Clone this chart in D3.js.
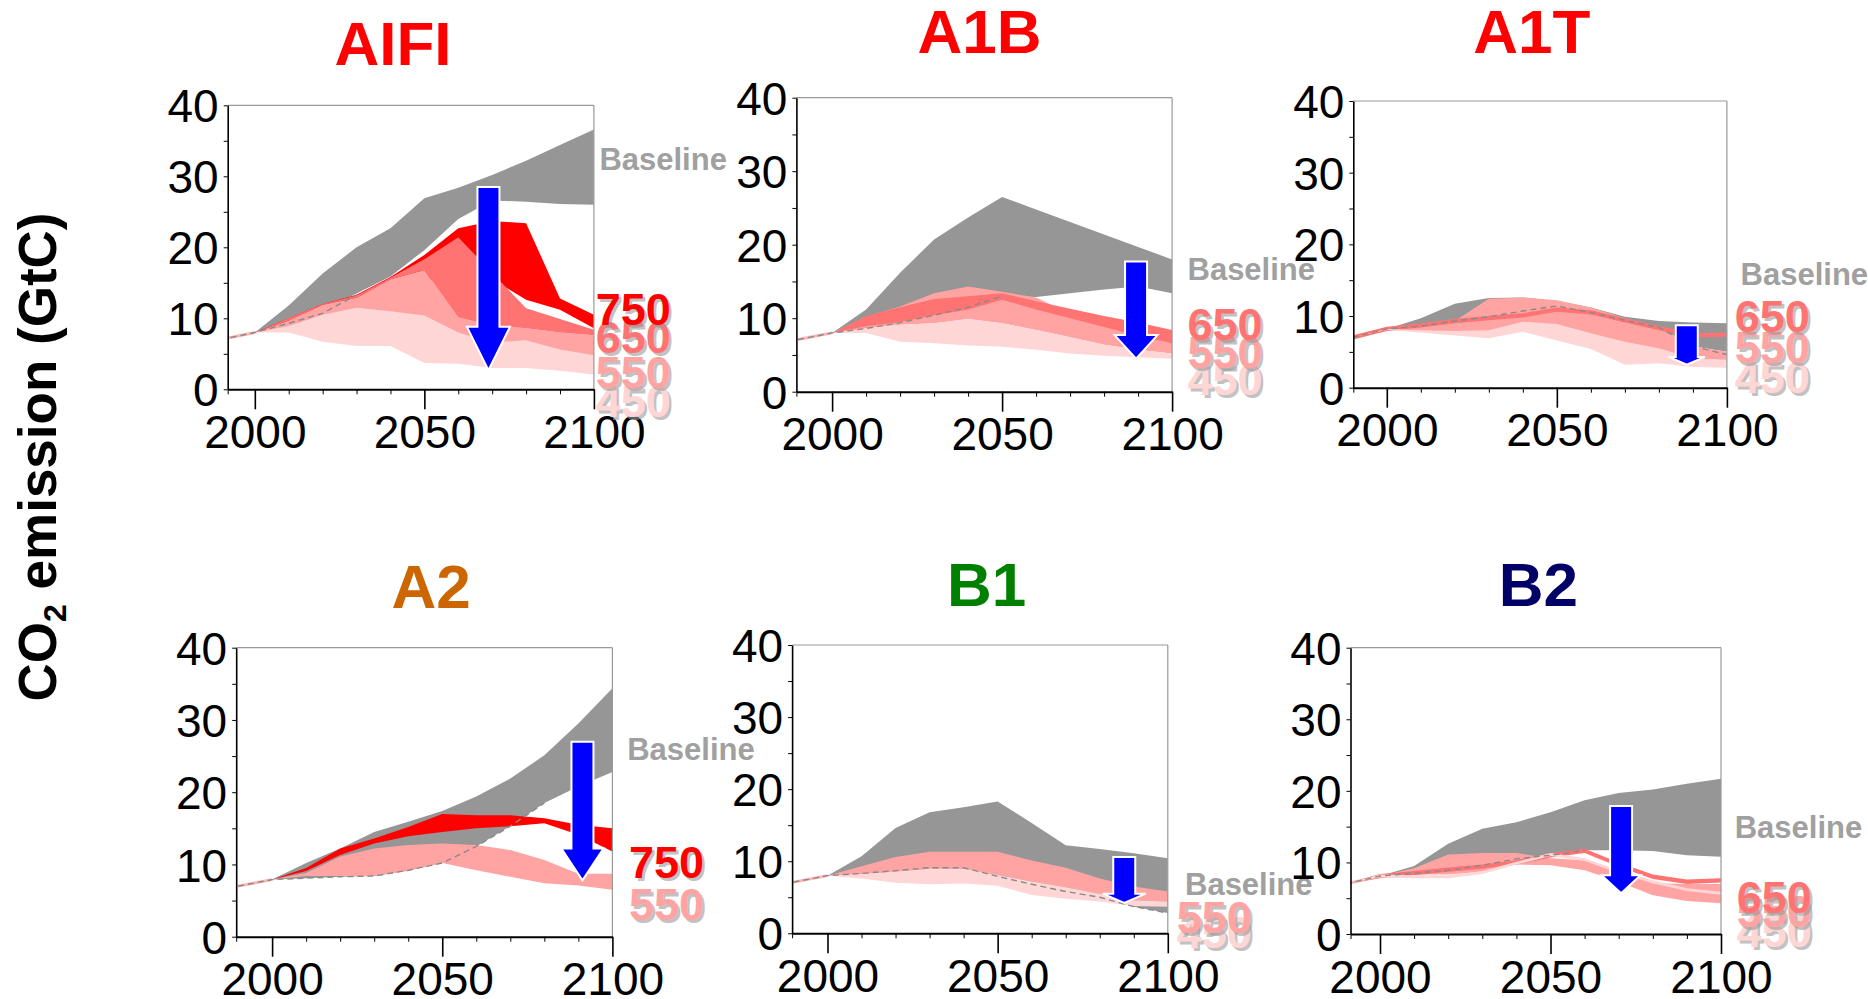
<!DOCTYPE html>
<html><head><meta charset="utf-8">
<script src="https://cdn.jsdelivr.net/npm/d3@7"></script>
<style>
body{margin:0;background:#fff;}
svg{display:block;}
text{font-family:"Liberation Sans", Arial, sans-serif;}
</style>
</head><body>
<svg id="chart" width="1868" height="999"></svg>
<script>
// ---------- data ----------
const years = [1990, 2000, 2010, 2020, 2030, 2040, 2050, 2060, 2070, 2080, 2090, 2100];
const yMajorTicks = [0, 10, 20, 30, 40];
const yMinorTicks = [5, 15, 25, 35];
const xMajorTicks = [2000, 2050, 2100];
const xMinorTicks = [2010, 2020, 2030, 2040, 2060, 2070, 2080, 2090];
const scenarios = ["AIFI", "A1B", "A1T", "A2", "B1", "B2"];

// AIFI
const aifiBaseLo = [7.0, 8.0, 9.5, 11.2, 13.5, 15.9, 19.6, 24.0, 26.6, 26.4, 26.1, 26.0];
const aifiBaseHi = [7.0, 8.0, 11.8, 16.3, 20.0, 22.7, 26.9, 28.4, 30.2, 32.2, 34.4, 36.6];
const aifi750Lo = [7.0, 8.0, 9.3, 10.8, 12.2, 13.8, 15.2, 16.5, 15.5, 12.6, 11.2, 8.6];
const aifi750Hi = [7.0, 8.0, 10.0, 12.0, 13.3, 15.8, 18.9, 22.7, 23.7, 23.4, 12.8, 10.5];
const aifi650Lo = [7.0, 8.0, 9.7, 11.9, 12.9, 15.5, 16.8, 10.1, 9.0, 8.6, 8.0, 7.6];
const aifi650Hi = [7.0, 8.0, 10.0, 12.0, 13.2, 15.7, 18.3, 21.4, 16.4, 11.4, 9.9, 8.4];
const aifi550Lo = [7.0, 8.0, 8.6, 9.0, 9.5, 9.0, 8.0, 6.0, 5.0, 5.0, 4.5, 4.0];
const aifi550Hi = [7.0, 8.0, 9.7, 11.9, 12.9, 15.5, 16.8, 10.1, 9.0, 8.6, 8.0, 7.6];
const aifi450Lo = [7.0, 8.0, 8.0, 6.7, 6.1, 6.1, 3.7, 3.6, 3.0, 3.0, 2.6, 2.1];
const aifi450Hi = [7.0, 8.0, 8.9, 10.5, 11.5, 11.0, 10.4, 8.0, 6.6, 6.9, 5.6, 4.8];
const aifiDash = [7.0, 8.0, 9.3, 10.7, 13.3];

// A1B
const a1bBaseLo = [7.1, 8.0, 8.7, 9.5, 10.4, 11.5, 13.0, 12.9, 13.4, 13.9, 14.3, 13.4];
const a1bBaseHi = [7.1, 8.0, 11.2, 16.2, 20.7, 23.7, 26.5, 24.8, 23.1, 21.4, 19.7, 18.0];
const a1b650Lo = [7.1, 8.0, 8.9, 9.5, 10.4, 11.2, 12.5, 11.2, 10.0, 8.8, 7.6, 6.6];
const a1b650Hi = [7.1, 8.0, 10.3, 11.5, 12.6, 13.0, 13.4, 12.3, 11.3, 10.3, 9.4, 8.4];
const a1b550Lo = [7.1, 8.0, 8.6, 9.1, 9.3, 9.9, 9.3, 8.4, 7.4, 6.4, 5.7, 5.2];
const a1b550Hi = [7.1, 8.0, 10.2, 11.6, 13.4, 14.3, 13.6, 12.8, 10.6, 9.5, 8.5, 7.5];
const a1b450Lo = [7.1, 8.0, 8.0, 6.8, 6.6, 6.3, 6.1, 5.7, 5.2, 4.9, 4.7, 4.5];
const a1b450Hi = [7.1, 8.0, 8.6, 9.1, 9.3, 9.9, 9.3, 8.4, 7.4, 6.4, 5.7, 5.2];
const a1bDash = [7.1, 8.0, 8.6, 9.4, 10.4, 11.5, 13.0];

// A1T
const a1tBaseLo = [7.0, 8.2, 8.6, 9.3, 9.9, 10.7, 11.4, 10.5, 9.4, 8.4, 5.8, 5.0];
const a1tBaseHi = [7.0, 8.2, 9.7, 11.7, 12.5, 12.6, 12.1, 11.2, 9.9, 9.3, 9.1, 9.0];
const a1t650Lo = [6.7, 7.9, 8.4, 9.0, 9.4, 9.8, 10.6, 10.2, 9.1, 8.0, 7.0, 7.1];
const a1t650Hi = [7.3, 8.5, 9.0, 9.6, 10.0, 10.4, 11.2, 10.8, 9.7, 8.6, 7.6, 7.7];
const a1t550Lo = [7.0, 8.1, 7.8, 7.6, 7.5, 8.5, 8.2, 7.0, 5.8, 5.0, 3.8, 3.6];
const a1t550Hi = [7.0, 8.2, 8.6, 9.3, 12.4, 12.6, 12.2, 11.2, 9.7, 8.5, 5.8, 5.0];
const a1t450Lo = [7.0, 8.1, 7.7, 7.3, 6.9, 7.8, 6.6, 5.4, 3.2, 3.4, 2.9, 2.8];
const a1t450Hi = [7.0, 8.2, 8.0, 7.9, 8.0, 9.2, 8.9, 7.6, 6.4, 5.5, 4.1, 3.9];
const a1tDash = [7.0, 8.2, 8.6, 9.3, 9.9, 10.7, 11.4, 10.5, 9.4, 8.4, 5.8, 4.6];

// A2
const a2BaseLo = [7.0, 7.9, 8.1, 8.3, 8.4, 9.2, 10.2, 12.5, 15.3, 18.5, 20.8, 22.8];
const a2BaseHi = [7.0, 7.9, 10.2, 12.2, 14.5, 15.9, 17.4, 19.4, 21.9, 25.1, 29.5, 34.4];
const a2750Lo = [7.0, 7.9, 9.1, 11.3, 12.9, 13.9, 14.5, 15.0, 15.3, 15.7, 14.1, 11.8];
const a2750Hi = [7.0, 7.9, 9.5, 12.2, 13.6, 15.2, 17.0, 16.8, 16.8, 16.4, 15.5, 15.0];
const a2550Lo = [7.0, 7.9, 8.4, 8.4, 8.4, 9.1, 10.2, 9.2, 8.3, 7.4, 7.1, 6.5];
const a2550Hi = [7.0, 7.9, 8.8, 11.1, 12.2, 12.7, 12.9, 12.7, 12.0, 10.6, 8.7, 8.7];
const a2Dash = [7.0, 7.9, 8.1, 8.3, 8.4, 9.2, 10.2, 12.5, 15.3, 18.5];

// B1
const b1BaseLo = [7.1, 8.0, 8.3, 8.7, 9.1, 9.1, 7.9, 6.8, 5.8, 5.0, 3.7, 2.8];
const b1BaseHi = [7.1, 8.0, 10.7, 14.6, 16.8, 17.5, 18.3, 15.3, 12.2, 11.7, 11.1, 10.4];
const b1550Lo = [7.1, 8.0, 8.2, 8.5, 8.9, 8.9, 8.1, 7.2, 6.4, 5.5, 4.6, 4.4];
const b1550Hi = [7.1, 8.0, 9.3, 10.6, 11.3, 11.3, 11.3, 10.1, 9.1, 7.6, 6.5, 5.8];
const b1450Lo = [7.1, 8.0, 7.6, 7.0, 6.8, 6.9, 6.6, 5.3, 4.8, 4.4, 3.8, 3.7];
const b1450Hi = [7.1, 8.0, 8.2, 8.5, 8.9, 8.9, 8.1, 7.2, 6.4, 5.5, 4.6, 4.4];
const b1Dash = [7.1, 8.0, 8.3, 8.7, 9.1, 9.1, 7.9, 6.8, 5.8, 5.0, 3.7, 2.8];

// B2
const b2BaseLo = [7.0, 8.1, 8.5, 8.9, 9.6, 10.5, 11.0, 11.7, 11.7, 11.6, 11.0, 10.8];
const b2BaseHi = [7.0, 8.1, 9.5, 12.6, 14.7, 15.6, 17.0, 18.7, 19.7, 20.2, 21.0, 21.7];
const b2550Lo = [7.0, 8.1, 8.3, 8.3, 8.7, 9.7, 9.6, 8.9, 7.3, 5.4, 4.6, 4.3];
const b2550Hi = [7.0, 8.1, 9.2, 11.1, 11.3, 11.3, 10.6, 10.3, 8.9, 7.1, 7.0, 7.0];
const b2650Lo = [7.0, 7.8, 8.2, 8.7, 9.1, 9.7, 10.7, 11.3, 9.4, 7.7, 7.0, 7.2];
const b2650Hi = [7.0, 8.4, 8.8, 9.3, 9.7, 10.3, 11.3, 11.9, 10.0, 8.3, 7.6, 7.8];
const b2450Lo = [7.0, 7.9, 7.8, 7.8, 8.4, 9.7, 10.9, 10.2, 8.5, 7.1, 6.0, 5.5];
const b2450Hi = [7.0, 8.3, 8.2, 8.2, 8.8, 10.1, 11.3, 10.6, 8.9, 7.5, 6.4, 5.9];
const b2Dash = [7.0, 8.1, 8.5, 8.9, 9.6, 10.5, 11.0, 11.7];

// mitigation arrows (year, top value, head-base value, tip value)
const arrowYear = [2068.9, 2089.4, 2088.2, 2091.2, 2087.2, 2070.7];
const arrowTop = [28.5, 17.7, 8.7, 27.0, 10.6, 17.9];
const arrowHeadBase = [8.8, 7.7, 4.3, 12.2, 5.5, 8.2];
const arrowTip = [2.7, 4.5, 3.2, 7.8, 4.2, 5.7];

// ---------- styles ----------
const C = {base: "#969696", s750: "#ff0000", s650: "#ff7373", s550: "#ffa3a3", s450: "#ffd6d6"};
const titleColors = ["#ff0000", "#ff0000", "#ff0000", "#cc6600", "#008000", "#000066"];

// ---------- panels (layout + data hookup) ----------
const panels = [
  {frame:{l:227.7,t:105.3,r:593.9,b:389.3}, xStart:1992.0, title:[393,65],
   bands:[[aifiBaseLo,aifiBaseHi,C.base],[aifi750Lo,aifi750Hi,C.s750],[aifi550Lo,aifi550Hi,C.s550],[aifi650Lo,aifi650Hi,C.s650],[aifi450Lo,aifi450Hi,C.s450]],
   dash:aifiDash, hist:"#ffb3b3",
   baseLabel:[599.4,170], numX:595.7, nums:[["450",417,C.s450],["550",388,C.s550],["650",353,C.s650],["750",325,C.s750]], headW:43},
  {frame:{l:796.4,t:97.7,r:1172.1,b:391.7}, xStart:1989.5, title:[979.5,53],
   bands:[[a1bBaseLo,a1bBaseHi,C.base],[a1b550Lo,a1b550Hi,C.s550],[a1b650Lo,a1b650Hi,C.s650],[a1b450Lo,a1b450Hi,C.s450]],
   dash:a1bDash, hist:"#ffb3b3",
   baseLabel:[1187.5,280], numX:1187.5, nums:[["450",395,C.s450],["550",368,C.s550],["650",340,C.s650]], headW:43},
  {frame:{l:1353.3,t:101,r:1726.9,b:387.7}, xStart:1990.15, title:[1531.8,53],
   bands:[[a1tBaseLo,a1tBaseHi,C.base],[a1t550Lo,a1t550Hi,C.s550],[a1t650Lo,a1t650Hi,C.s650],[a1t450Lo,a1t450Hi,C.s450]],
   dash:a1tDash, hist:"#ff7373",
   baseLabel:[1740.6,285], numX:1734.7, nums:[["450",393,C.s450],["550",363,C.s550],["650",332,C.s650]], headW:36},
  {frame:{l:236.2,t:647.7,r:612.4,b:936.7}, xStart:1989.45, title:[431.1,607.7],
   bands:[[a2BaseLo,a2BaseHi,C.base],[a2550Lo,a2550Hi,C.s550],[a2750Lo,a2750Hi,C.s750]],
   dash:a2Dash, hist:"#ffb3b3",
   baseLabel:[627.2,760], numX:629, nums:[["550",920,C.s550],["750",878,C.s750]], headW:42},
  {frame:{l:792.1,t:645,r:1167.8,b:933.3}, xStart:1989.6, title:[986.6,606],
   bands:[[b1BaseLo,b1BaseHi,C.base],[b1550Lo,b1550Hi,C.s550],[b1450Lo,b1450Hi,C.s450]],
   dash:b1Dash, hist:"#ffb3b3",
   baseLabel:[1185,895], numX:1176.7, nums:[["450",948,C.s450],["550",933,C.s550]], headW:43},
  {frame:{l:1350.5,t:647.7,r:1721,b:934}, xStart:1991.35, title:[1538.3,606],
   bands:[[b2BaseLo,b2BaseHi,C.base],[b2550Lo,b2550Hi,C.s550],[b2650Lo,b2650Hi,C.s650],[b2450Lo,b2450Hi,C.s450]],
   dash:b2Dash, hist:"#ffc4c4",
   baseLabel:[1734.7,838], numX:1736.7, nums:[["450",947,C.s450],["550",927,C.s550],["650",913,C.s650]], headW:39}
];

const svg = d3.select("#chart");
svg.append("rect").attr("width",1868).attr("height",999).attr("fill","#fff");
const defs = svg.append("defs");

// y-axis title
const yt = svg.append("text")
  .attr("transform","translate(56,457) rotate(-90)")
  .attr("text-anchor","middle")
  .attr("font-size",53).attr("font-weight","bold").attr("fill","#000");
yt.append("tspan").text("CO");
yt.append("tspan").attr("font-size",32).attr("dy",10).text("2");
yt.append("tspan").attr("dy",-10).text(" emission (GtC)");

panels.forEach((p, pi) => {
  const f = p.frame;
  const x = d3.scaleLinear().domain([p.xStart, 2100]).range([f.l, f.r]);
  const y = d3.scaleLinear().domain([0, 40]).range([f.b, f.t]);
  const g = svg.append("g");

  const clipId = "clip" + pi;
  defs.append("clipPath").attr("id", clipId)
    .append("rect").attr("x", f.l).attr("y", f.t).attr("width", f.r - f.l).attr("height", f.b - f.t);
  const plot = g.append("g").attr("clip-path", `url(#${clipId})`);

  // history line (pre-2000)
  plot.append("path")
    .datum([0, 1])
    .attr("d", d3.line().x(i => x(years[i])).y(i => y(p.bands[0][0][i])))
    .attr("fill","none").attr("stroke", p.hist).attr("stroke-width", 3);

  // bands
  p.bands.forEach(([lo, hi, col]) => {
    const area = d3.area()
      .x((d, i) => x(years[i]))
      .y0((d, i) => y(lo[i]))
      .y1((d, i) => y(hi[i]));
    plot.append("path").datum(years).attr("d", area).attr("fill", col).attr("stroke", "none");
  });

  // dashed reference line
  plot.append("path")
    .datum(p.dash)
    .attr("d", d3.line().x((d, i) => x(years[i])).y(d => y(d)))
    .attr("fill","none").attr("stroke","#8a8a8a").attr("stroke-width",1.4).attr("stroke-dasharray","6,4");

  // frame (top/right gray)
  g.append("line").attr("x1",f.l).attr("x2",f.r).attr("y1",f.t).attr("y2",f.t).attr("stroke","#999").attr("stroke-width",1.2);
  g.append("line").attr("x1",f.r).attr("x2",f.r).attr("y1",f.t).attr("y2",f.b).attr("stroke","#999").attr("stroke-width",1.2);

  // y axis
  const yAx = g.append("g").attr("transform",`translate(${f.l},0)`)
    .call(d3.axisLeft(y).tickValues(yMajorTicks).tickSize(4).tickSizeOuter(0).tickPadding(5));
  g.append("g").attr("transform",`translate(${f.l},0)`)
    .call(d3.axisLeft(y).tickValues(yMinorTicks).tickSize(4).tickSizeOuter(0).tickFormat(""))
    .call(s => s.select(".domain").remove());
  yAx.select(".domain").attr("stroke","#000").attr("stroke-width",1.6);
  yAx.selectAll("text").attr("font-size",46).attr("font-family",'"Liberation Sans", Arial, sans-serif')
    .attr("fill","#000").attr("dy","0.36em");

  // x axis
  const xAx = g.append("g").attr("transform",`translate(0,${f.b})`)
    .call(d3.axisBottom(x).tickValues(xMajorTicks).tickSize(20).tickSizeOuter(0).tickPadding(6).tickFormat(d3.format("d")));
  g.append("g").attr("transform",`translate(0,${f.b})`)
    .call(d3.axisBottom(x).tickValues([p.xStart].concat(xMinorTicks)).tickSize(5).tickSizeOuter(0).tickFormat(""))
    .call(s => s.select(".domain").remove());
  xAx.select(".domain").attr("stroke","#000").attr("stroke-width",2);
  xAx.selectAll(".tick line").attr("stroke-width",1.6);
  xAx.selectAll("text").attr("font-size",46).attr("font-family",'"Liberation Sans", Arial, sans-serif').attr("fill","#000");
  g.selectAll(".tick line").attr("stroke","#000");

  // title
  g.append("text").attr("x",p.title[0]).attr("y",p.title[1]).attr("text-anchor","middle")
    .attr("font-size",62).attr("font-weight","bold").attr("fill",titleColors[pi]).text(scenarios[pi]);

  // baseline label
  g.append("text").attr("x",p.baseLabel[0]).attr("y",p.baseLabel[1])
    .attr("font-size",31).attr("font-weight","bold").attr("fill","#a0a0a0").text("Baseline");

  // stabilization labels with shadow
  p.nums.forEach(([t, yy, col]) => {
    g.append("text").attr("x",p.numX+2.5).attr("y",yy+2.5).attr("font-size",45).attr("font-weight","bold")
      .attr("fill","#9a9a9a").attr("opacity",0.6).text(t);
    g.append("text").attr("x",p.numX).attr("y",yy).attr("font-size",45).attr("font-weight","bold")
      .attr("fill",col).text(t);
  });

  // blue arrow
  const ax = x(arrowYear[pi]), yTop = y(arrowTop[pi]), yHB = y(arrowHeadBase[pi]), yTip = y(arrowTip[pi]);
  const sw = 11, hw = p.headW / 2;
  const pts = [[ax-sw,yTop],[ax+sw,yTop],[ax+sw,yHB],[ax+hw,yHB],[ax,yTip],[ax-hw,yHB],[ax-sw,yHB]];
  g.append("path").attr("d", d3.line()(pts) + "Z")
    .attr("fill","#0000ff").attr("stroke","#fff").attr("stroke-width",2).attr("stroke-linejoin","miter");
});
</script>
</body></html>
